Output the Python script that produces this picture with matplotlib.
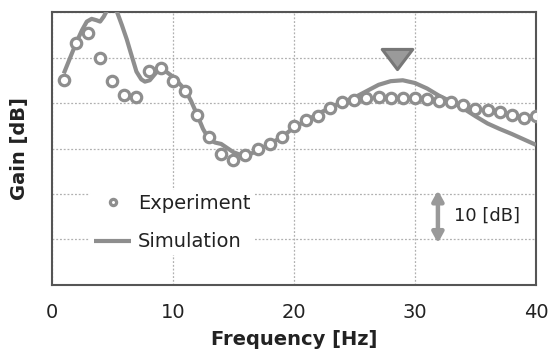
import matplotlib
matplotlib.use("Agg")
import matplotlib.pyplot as plt
from matplotlib.path import Path

plt.rcParams['font.family'] = ['DejaVu Sans']

exp_x = list(range(1, 41))
exp_y = [45.0, 53.3, 55.3, 50.0, 44.9, 41.8, 41.4, 47.1, 47.8, 44.9,
         42.7, 37.4, 32.5, 28.9, 27.5, 28.6, 30.0, 31.0, 32.6, 34.9,
         36.3, 37.1, 38.8, 40.3, 40.7, 41.0, 41.4, 41.2, 41.2, 41.2,
         40.8, 40.4, 40.3, 39.6, 38.6, 38.5, 38.1, 37.4, 36.8, 37.1]

sim_x = [1, 1.5, 2, 2.5, 2.9, 3.3, 3.7, 4, 4.3, 4.6, 5, 5.4, 5.8, 6.2, 6.5,
         7, 7.4, 7.7, 8.1, 8.7, 9.1, 10, 11, 11.5, 12, 12.5, 13, 13.5, 14,
         15, 16, 17, 18, 19, 20, 21, 22, 23, 24, 25, 26, 27, 28, 29, 30,
         31, 32, 33, 34, 35, 36, 37, 38, 39, 40]
sim_y = [46.5, 49.8, 53.1, 56.0, 57.9, 58.5, 58.2, 57.9, 59.0, 60.5, 61.2, 60.0, 57.1, 54.0, 51.3,
         46.9, 45.2, 44.7, 45.0, 46.9, 47.6, 45.8, 43.0, 40.5, 37.5, 34.3, 32.0, 31.3, 31.0,
         29.2, 28.2, 29.6, 31.0, 32.5, 34.6, 36.1, 37.6, 39.0, 40.2, 41.2, 42.6, 44.0, 44.8, 45.0, 44.4,
         43.2, 41.6, 40.3, 38.8, 37.1, 35.5, 34.3, 33.2, 32.0, 30.8]

peak_x = [28.5]
peak_y = [49.6]

xticks = [0, 10, 20, 30, 40]
grey = '#8e8e8e'

fig = plt.figure(figsize=(5.5, 3.54), dpi=100)
ax = fig.add_axes([0.094, 0.195, 0.8805, 0.771])
ax.set_xlim(0, 40)
ax.set_ylim(0, 60)

ax.set_xticks(xticks)
ax.set_yticks([0, 10, 20, 30, 40, 50, 60])
ax.set_yticklabels([])
ax.tick_params(axis='both', length=0, labelsize=14, colors='#222222', pad=13)
ax.grid(True, color='#b0b0b0', linestyle=(0, (1.5, 1.5)), linewidth=0.9)
ax.set_axisbelow(True)
for s in ax.spines.values():
    s.set_color('#555555')
    s.set_linewidth(1.5)

sim_line, = ax.plot(sim_x, sim_y, color=grey, linewidth=3, label='Simulation', zorder=3,
                    solid_capstyle='butt')
exp_pts, = ax.plot(exp_x, exp_y, linestyle='none', marker='o', markersize=7.5,
                   markerfacecolor='white', markeredgecolor=grey, markeredgewidth=2.3,
                   label='Experiment', zorder=4)

tri = Path([(-1, 0.66), (1, 0.66), (0, -0.66), (-1, 0.66)],
           [Path.MOVETO, Path.LINETO, Path.LINETO, Path.CLOSEPOLY])
ax.plot(peak_x, peak_y, linestyle='none', marker=tri, markersize=22,
        markerfacecolor='#9a9a9a', markeredgecolor='#777777', markeredgewidth=2.2,
        zorder=5, clip_on=False)

ax.annotate('', xy=(31.9, 9.2), xytext=(31.9, 20.8),
            arrowprops=dict(arrowstyle='<|-|>,head_length=0.6,head_width=0.33',
                            color='#999999', lw=3.2, shrinkA=0, shrinkB=0))
ax.text(33.2, 15.3, '10 [dB]', fontsize=13, va='center', ha='left', color='#222222')

leg = ax.legend(handles=[exp_pts, sim_line], loc='lower left',
                bbox_to_anchor=(0.06, 0.073), frameon=True, fontsize=14,
                handlelength=1.9, handletextpad=0.35, labelspacing=1.0,
                borderpad=0.2, markerscale=0.6)
leg.get_frame().set_facecolor('white')
leg.get_frame().set_edgecolor('none')
leg.get_frame().set_alpha(1)
for t in leg.get_texts():
    t.set_color('#222222')

ax.set_xlabel('Frequency [Hz]', fontsize=14, fontweight='bold', labelpad=6, color='#222222')
ax.set_ylabel('Gain [dB]', fontsize=14, fontweight='bold', labelpad=3, color='#222222')

fig.savefig('out.png', dpi=100)
